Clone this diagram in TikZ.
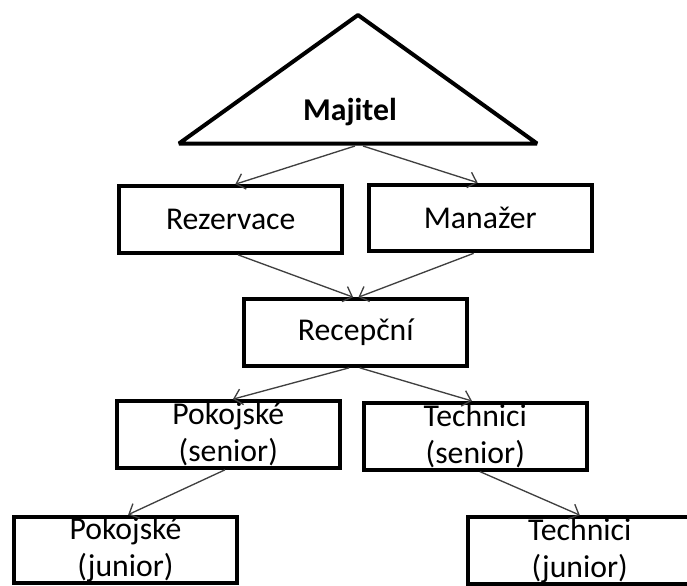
\documentclass[tikz,border=0pt]{standalone}
\usepackage{fontspec}
\setmainfont{Carlito}
\usetikzlibrary{arrows.meta}

\tikzset{
  px/.style={x=0.75pt,y=-0.75pt},
  orgbox/.style={draw=black,line width=3pt,rectangle,inner sep=0pt,
    minimum width=167pt,minimum height=50pt,fill=white},
  orgtext/.style={align=center,inner sep=0pt,text=black},
  link/.style={draw=black!75,line width=1pt,
    -{Straight Barb[length=6pt,width=12pt,line width=1pt]}},
  big/.style={font=\fontsize{23.8}{27.8}\selectfont},
}

\begin{document}
\begin{tikzpicture}[px,big]
  \useasboundingbox (0,0) rectangle (687,586);

  % owner: triangle at the top
  \draw[line width=3pt,line join=bevel] (358,15) -- (179,143.5) -- (537,143.5) -- cycle;
  \node[orgtext,anchor=base,font=\fontsize{23.8}{27.8}\selectfont\bfseries] (majitel) at (350,120) {Majitel};
  \coordinate (majL) at (355,146);
  \coordinate (majR) at (363,146);

  % second level
  \node[orgbox] (rez) at (230.7,219.5) {Rezervace};
  \node[orgbox] (man) at (480.3,218) {Manažer};

  % reception
  \node[orgbox] (rec) at (355.8,332.5) {Recepční};

  % senior staff
  \node[orgbox] (pks) at (228.3,434.5) {};
  \node[orgtext] (pkstxt) at (pks.center) {Pokojské\\(senior)};
  \node[orgbox] (tcs) at (475.3,436.3) {};
  \node[orgtext] (tcstxt) at (tcs.center) {Technici\\(senior)};

  % junior staff
  \node[orgbox] (pkj) at (125.5,550) {};
  \node[orgtext] (pkjtxt) at (pkj.center) {Pokojské\\(junior)};
  \node[orgbox] (tcj) at (579.8,550.5) {};
  \node[orgtext] (tcjtxt) at (tcj.center) {Technici\\(junior)};

  % connectors
  \draw[link] (majL) -- ([xshift=3.5pt]rez.north);
  \draw[link] (majR) -- ([xshift=-2pt]man.north);
  \draw[link] ([xshift=5.5pt]rez.south) -- ([xshift=-2pt]rec.north);
  \draw[link] ([xshift=-5pt]man.south) -- ([xshift=2pt]rec.north);
  \draw[link] ([xshift=-5pt]rec.south) -- ([xshift=3.5pt]pks.north);
  \draw[link] ([xshift=3pt]rec.south) -- ([xshift=-2.5pt]tcs.north);
  \draw[link] ([xshift=-2.5pt]pks.south) -- ([xshift=2pt]pkj.north);
  \draw[link] ([xshift=3.5pt]tcs.south) -- (tcj.north);
\end{tikzpicture}
\end{document}
